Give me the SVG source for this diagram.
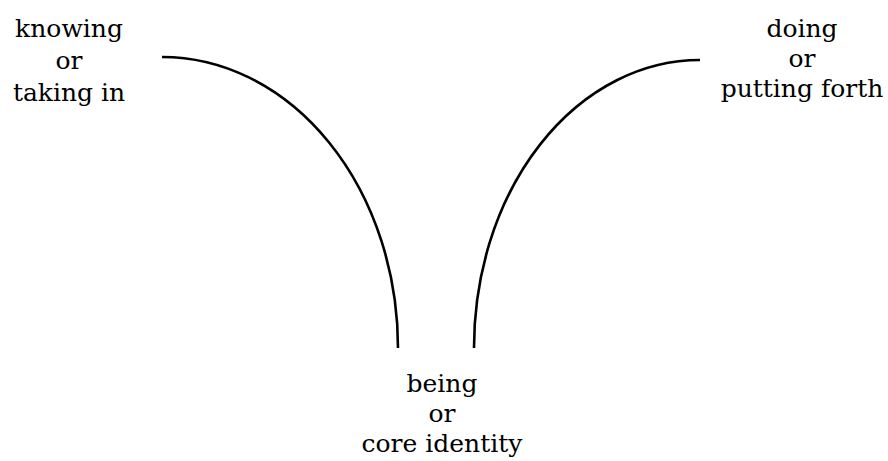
<svg xmlns="http://www.w3.org/2000/svg" width="888" height="461" viewBox="0 0 888 461">
<style>
text{font-family:"DejaVu Serif","Liberation Serif",serif;font-size:25px;fill:#000;text-anchor:middle}
.c{fill:none;stroke:#000;stroke-width:2.6}
</style>
<rect width="888" height="461" fill="#fff"/>
<g id="connectors">
<path class="c" d="M162,57 A236,291 0 0 1 398,348"/>
<path class="c" d="M700,60 A226,288 0 0 0 474,348"/>
</g>
<g id="knowing">
<text x="69" y="37">knowing</text>
<text x="69" y="69">or</text>
<text x="69" y="101">taking in</text>
</g>
<g id="doing">
<text x="802" y="37">doing</text>
<text x="802" y="67">or</text>
<text x="802" y="97">putting forth</text>
</g>
<g id="being">
<text x="442" y="392">being</text>
<text x="442" y="422">or</text>
<text x="442" y="452">core identity</text>
</g>
</svg>
